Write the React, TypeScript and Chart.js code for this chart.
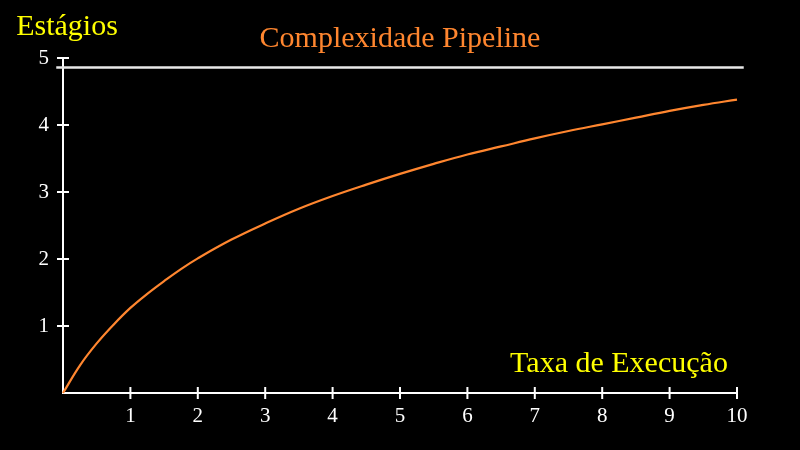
import { useEffect, useRef } from "react";
import { Chart, registerables } from "chart.js";
Chart.register(...registerables);

// values
const rateX = [0, 0.25, 0.5, 0.75, 1, 1.25, 1.5, 1.75, 2, 2.5, 3, 3.5, 4, 4.5, 5, 5.5, 6, 6.5, 7, 7.5, 8, 8.5, 9, 9.5, 10];
const stages = [0, 0.41, 0.74, 1.02, 1.27, 1.48, 1.67, 1.85, 2.01, 2.29, 2.53, 2.75, 2.94, 3.11, 3.27, 3.42, 3.56, 3.68, 3.8, 3.91, 4.01, 4.11, 4.21, 4.3, 4.38];
const limitX = [-0.1, 10.1];
const limitY = [4.86, 4.86];
const xTicks = [1, 2, 3, 4, 5, 6, 7, 8, 9, 10];
const yTicks = [1, 2, 3, 4, 5];

const TITLE = "Complexidade Pipeline";
const Y_LABEL = "Estágios";
const X_LABEL = "Taxa de Execução";

const ORANGE = "#FF862F";
const YELLOW = "#FFFF00";
const FONT = '"Liberation Serif", "DejaVu Serif", serif';

const decorations = {
  id: "decorations",
  afterDatasetsDraw(chart: Chart) {
    const { ctx } = chart;
    const x = chart.scales.x;
    const y = chart.scales.y;
    const x0 = x.getPixelForValue(0);
    const y0 = y.getPixelForValue(0);
    ctx.save();
    ctx.strokeStyle = "#ffffff";
    ctx.lineWidth = 2;
    ctx.beginPath();
    xTicks.forEach((v) => {
      const px = x.getPixelForValue(v);
      ctx.moveTo(px, y0 - 6);
      ctx.lineTo(px, y0 + 6);
    });
    yTicks.forEach((v) => {
      const py = y.getPixelForValue(v);
      ctx.moveTo(x0 - 6, py);
      ctx.lineTo(x0 + 6, py);
    });
    ctx.stroke();

    ctx.textAlign = "center";
    ctx.textBaseline = "alphabetic";
    ctx.font = `30px ${FONT}`;
    ctx.fillStyle = ORANGE;
    ctx.fillText(TITLE, 400, 47);
    ctx.fillStyle = YELLOW;
    ctx.fillText(Y_LABEL, 67, 35);
    ctx.fillText(X_LABEL, 619, 372);
    ctx.restore();
  },
};

export default function App() {
  const canvasRef = useRef<HTMLCanvasElement | null>(null);

  useEffect(() => {
    if (!canvasRef.current) return;
    const ctx = canvasRef.current.getContext("2d");
    if (!ctx) return;

    const chart = new Chart(ctx, {
      type: "line",
      data: {
        datasets: [
          {
            data: rateX.map((v, i) => ({ x: v, y: stages[i] })),
            borderColor: ORANGE,
            borderWidth: 2.2,
            pointRadius: 0,
            tension: 0.4,
            borderJoinStyle: "round",
            clip: false,
          },
          {
            data: limitX.map((v, i) => ({ x: v, y: limitY[i] })),
            borderColor: "#e8e8e8",
            borderWidth: 2.5,
            pointRadius: 0,
            clip: false,
          },
        ],
      },
      options: {
        responsive: false,
        animation: false,
        layout: { padding: { top: 58, right: 63, left: 0, bottom: 0 } },
        plugins: { legend: { display: false }, tooltip: { enabled: false }, title: { display: false } },
        scales: {
          x: {
            type: "linear",
            min: 0,
            max: 10,
            grid: { display: false },
            border: { color: "#ffffff", width: 2 },
            ticks: {
              stepSize: 1,
              color: "#ffffff",
              padding: 3,
              maxRotation: 0,
              font: { family: FONT, size: 21 },
              callback: (v) => (Number(v) === 0 ? "" : String(v)),
            },
            afterFit: (s) => { s.height = 57; },
          },
          y: {
            min: 0,
            max: 5,
            grid: { display: false },
            border: { color: "#ffffff", width: 2 },
            ticks: {
              stepSize: 1,
              color: "#ffffff",
              padding: 6,
              font: { family: FONT, size: 21 },
              callback: (v) => (Number(v) === 0 ? "" : String(v)),
            },
            afterFit: (s) => { s.width = 63; },
          },
        },
      },
      plugins: [decorations],
    });

    return () => chart.destroy();
  }, []);

  return (
    <div style={{ position: "fixed", left: 0, top: 0, width: 800, height: 450, background: "#000" }}>
      <canvas ref={canvasRef} width={800} height={450} />
    </div>
  );
}
